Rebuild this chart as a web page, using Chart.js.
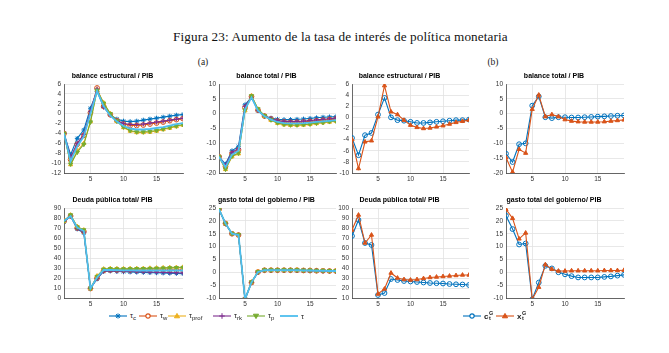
<!DOCTYPE html>
<html>
<head>
<meta charset="utf-8">
<script src="https://cdn.jsdelivr.net/npm/chart.js@4.4.1/dist/chart.umd.min.js"></script>
<style>
  body { margin: 0; background: #fff; width: 669px; height: 353px; position: relative; overflow: hidden; }
  .fig-title { position: absolute; top: 29px; left: 173px; white-space: nowrap; font-family: 'Liberation Serif', serif; font-size: 13.2px; letter-spacing: 0.12px; color: #111; }
  .sub-label { position: absolute; top: 57px; font-family: 'Liberation Serif', serif; font-size: 9.5px; color: #222; transform: translateX(-50%); }
  .leg-item { position: absolute; top: 311px; height: 10px; display: flex; align-items: center; font-family: 'Liberation Sans', Arial, sans-serif; font-size: 7.5px; color: #222; white-space: nowrap; }
  .leg-item svg { margin-right: 3px; }
  .leg-item sub { font-size: 6px; vertical-align: -2px; }
  .stack { display: inline-flex; flex-direction: column; font-size: 5.5px; line-height: 5px; margin-left: 0.5px; }
  .bold { font-weight: bold; font-size: 8px; }
</style>
</head>
<body>
<div class="fig-title">Figura 23: Aumento de la tasa de interés de política monetaria</div>
<div class="sub-label" style="left:203px">(a)</div>
<div class="sub-label" style="left:493px">(b)</div>

<script>
const periods = [1, 2, 3, 4, 5, 6, 7, 8, 9, 10, 11, 12, 13, 14, 15, 16, 17, 18, 19];
const xTicks = [5, 10, 15];

// (a) balance estructural / PIB
const estA_c    = [-4, -8.3, -5, -3.3, 1.1, 4.5, 1.4, -0.2, -1.1, -1.5, -1.6, -1.5, -1.3, -1.1, -0.9, -0.7, -0.5, -0.3, -0.2];
const estA_w    = [-4, -9.3, -6.2, -4.4, 0.2, 5.2, 1.5, -0.2, -1.4, -2.1, -2.4, -2.4, -2.3, -2.1, -1.9, -1.7, -1.4, -1.2, -1];
const estA_prof = [-4, -10.3, -7.5, -6, -1.6, 4.8, 2.2, 0, -1.5, -2.8, -3.5, -3.8, -3.8, -3.7, -3.5, -3.2, -2.9, -2.6, -2.3];
const estA_rk   = [-4, -8.8, -6, -4.2, 0.5, 5, 1.3, -0.3, -1.4, -2, -2.2, -2.2, -2.1, -1.9, -1.7, -1.5, -1.3, -1.1, -0.9];
const estA_p    = [-4, -10.2, -7.8, -6.2, -1.7, 4.7, 2.1, 0, -1.5, -2.7, -3.4, -3.7, -3.7, -3.6, -3.4, -3.1, -2.8, -2.5, -2.2];
const estA_tau  = [-4, -9.6, -6.6, -4.6, 0, 4.6, 1.5, -0.4, -1.6, -2.5, -3, -3.2, -3.2, -3.1, -2.9, -2.7, -2.4, -2.1, -1.9];

// (a) balance total / PIB
const totA_c    = [-14.5, -17, -12.5, -11, 3, 5.5, 1, -0.8, -1.5, -1.9, -2, -2, -1.9, -1.8, -1.6, -1.4, -1.2, -1.1, -1];
const totA_w    = [-14.5, -17.8, -13.5, -12.2, 2, 5.8, 1.2, -0.8, -1.8, -2.5, -2.8, -2.9, -2.9, -2.8, -2.6, -2.4, -2.2, -2, -1.8];
const totA_prof = [-14.5, -18.8, -14.5, -13.5, 1, 6, 1.5, -0.8, -2.2, -3.2, -3.7, -3.9, -3.9, -3.8, -3.6, -3.3, -3, -2.8, -2.5];
const totA_rk   = [-14.5, -17.5, -13, -11.8, 2.5, 5.6, 1.1, -0.8, -1.7, -2.3, -2.6, -2.6, -2.6, -2.5, -2.3, -2.1, -1.9, -1.7, -1.5];
const totA_p    = [-14.5, -18.7, -14.3, -13.3, 1.2, 6, 1.6, -0.7, -2.1, -3.1, -3.6, -3.8, -3.8, -3.7, -3.5, -3.2, -3, -2.7, -2.5];
const totA_tau  = [-14.5, -18, -13.8, -12.5, 1.5, 5.5, 1, -0.9, -2, -2.8, -3.2, -3.3, -3.3, -3.2, -3, -2.8, -2.6, -2.4, -2.2];

// (a) Deuda pública total / PIB
const deuA_c    = [76, 82, 69, 65, 9.5, 19, 26.5, 27, 26.5, 26.2, 26, 25.8, 25.6, 25.4, 25.2, 25, 24.8, 24.6, 24.4];
const deuA_w    = [77, 82, 70, 66.5, 9.5, 20, 27.5, 28, 28, 28, 28, 28, 28, 28, 28, 28, 28, 28, 28];
const deuA_prof = [77, 83, 71.5, 68, 9.5, 22, 29, 29.5, 29.3, 29.3, 29.4, 29.5, 29.6, 29.8, 30, 30.2, 30.4, 30.6, 30.8];
const deuA_rk   = [76.5, 82, 69.5, 66, 9.5, 19.5, 27, 27.3, 27, 26.8, 26.6, 26.4, 26.2, 26, 25.8, 25.6, 25.4, 25.2, 25];
const deuA_p    = [77, 83, 71, 68, 9.5, 21.5, 28.8, 29.2, 29, 29, 29.1, 29.2, 29.3, 29.5, 29.7, 29.9, 30.1, 30.3, 30.5];
const deuA_tau  = [77, 82, 70.5, 67, 9.5, 20.5, 28, 28, 27.8, 27.7, 27.6, 27.5, 27.5, 27.5, 27.5, 27.5, 27.5, 27.5, 27.5];

// (a) gasto total del gobierno / PIB
const gasA_c    = [24.5, 18.8, 15, 14.5, -10.5, -4, 0, 0.8, 0.8, 0.8, 0.8, 0.8, 0.7, 0.7, 0.6, 0.6, 0.5, 0.5, 0.4];
const gasA_w    = [24.5, 19, 15, 14.5, -10.5, -4, 0.1, 0.8, 0.8, 0.8, 0.8, 0.8, 0.8, 0.7, 0.7, 0.6, 0.6, 0.5, 0.5];
const gasA_prof = [24.5, 19, 15.1, 14.6, -10.5, -3.8, 0.2, 0.9, 0.9, 0.9, 0.9, 0.9, 0.9, 0.8, 0.8, 0.7, 0.7, 0.6, 0.6];
const gasA_rk   = [24.5, 18.9, 15, 14.5, -10.5, -4, 0, 0.8, 0.8, 0.8, 0.8, 0.8, 0.7, 0.7, 0.6, 0.6, 0.5, 0.5, 0.4];
const gasA_p    = [24.5, 19, 15.1, 14.6, -10.5, -3.8, 0.2, 0.9, 0.9, 0.9, 0.9, 0.9, 0.9, 0.8, 0.8, 0.7, 0.7, 0.6, 0.6];
const gasA_tau  = [24.5, 19, 15, 14.5, -10.5, -3.9, 0.1, 0.8, 0.8, 0.8, 0.8, 0.8, 0.8, 0.7, 0.7, 0.6, 0.6, 0.5, 0.5];

// (b) c^G_t and x^G_t
const estB_c = [-3.7, -6.8, -3.2, -2.8, 0.5, 3.5, 0, -0.5, -0.6, -0.8, -1, -1, -0.9, -0.8, -0.7, -0.6, -0.5, -0.5, -0.4];
const estB_x = [-4, -9.2, -4.4, -4.2, 0.1, 5.7, 1, 0.5, -0.5, -1.4, -1.8, -2, -1.9, -1.7, -1.5, -1.2, -0.9, -0.7, -0.5];
const totB_c = [-13.5, -16.3, -10.3, -10, 2.7, 5.8, -1.2, -1.5, -1.2, -1.2, -1.3, -1.3, -1.2, -1.1, -1, -0.9, -0.8, -0.7, -0.6];
const totB_x = [-14.8, -19.7, -12, -13.3, 1.5, 6.3, -1, -0.3, -1, -2, -2.5, -2.7, -2.8, -2.8, -2.8, -2.7, -2.5, -2.3, -2.1];
const deuB_c = [72, 88, 65, 63, 13, 15, 29, 28, 27, 26.5, 26, 25.5, 25, 24.8, 24.5, 24, 23.7, 23.5, 23];
const deuB_x = [78, 93, 65, 73, 14, 19, 35, 30, 28.5, 28, 28.5, 29.5, 30.5, 31, 31.5, 32, 32.5, 33, 33];
const gasB_c = [22, 16.8, 10.8, 11.2, -10.5, -4, 2.5, 1.5, 0, -0.8, -1.5, -2, -2, -2, -2, -1.8, -1.6, -1.3, -1];
const gasB_x = [24.5, 21, 13, 15.3, -10.5, -5.8, 3, 1.2, 0.5, 0.5, 0.6, 0.6, 0.6, 0.6, 0.6, 0.7, 0.7, 0.7, 0.8];

// styles of the six tax series and the two spending series
const tauStyles = [
  { name: 'c',    color: '#0072BD', style: 'star' },
  { name: 'w',    color: '#D95319', style: 'circle' },
  { name: 'prof', color: '#EDB120', style: 'triangle', fill: true },
  { name: 'rk',   color: '#7E2F8E', style: 'cross' },
  { name: 'p',    color: '#77AC30', style: 'triangle', fill: true, rot: 180 },
  { name: '',     color: '#4DBEEE', style: null, width: 1.8 }
];
const gStyles = [
  { color: '#0072BD', style: 'circle' },
  { color: '#D95319', style: 'triangle', fill: true }
];

// plot area edges in the figure
const L = [64, 219, 352, 506], R = [183, 336, 469, 624];
const T = [84, 208], B = [173, 298];
const YW = 22, XH = 12, TH = 14;

function buildSets(list, styles) {
  const n = list.length;
  return list.map((vals, i) => {
    const s = styles[i];
    return {
      data: vals.map((v, k) => ({ x: periods[k], y: v })),
      borderColor: s.color,
      borderWidth: s.width || 1.1,
      pointStyle: s.style || 'circle',
      pointRadius: s.style ? 2.4 : 0,
      pointRotation: s.rot || 0,
      pointBorderColor: s.color,
      pointBackgroundColor: s.fill ? s.color : 'rgba(255,255,255,0)',
      pointBorderWidth: 1,
      tension: 0,
      order: n - i
    };
  });
}

function addPanel(col, row, title, yMin, yMax, yStep, datasets) {
  const w = R[col] - L[col] + 2 * YW;
  const h = B[row] - T[row] + TH + XH;
  const cv = document.createElement('canvas');
  cv.width = w; cv.height = h;
  cv.style.cssText = `position:absolute;left:${L[col] - YW}px;top:${T[row] - TH}px;width:${w}px;height:${h}px;`;
  document.body.appendChild(cv);

  const tickFont = { family: "'Liberation Sans', Arial, sans-serif", size: 6.5 };
  new Chart(cv, {
    type: 'line',
    data: { datasets },
    options: {
      responsive: false,
      animation: false,
      devicePixelRatio: 1,
      layout: { padding: { left: 0, right: YW, top: 0, bottom: 0 } },
      plugins: {
        legend: { display: false },
        tooltip: { enabled: false },
        title: {
          display: true, text: title, color: '#000',
          font: { family: "'Liberation Sans', Arial, sans-serif", size: 7, weight: 'bold', lineHeight: 1 },
          padding: { top: 3, bottom: 4 }
        }
      },
      scales: {
        x: {
          type: 'linear', min: 1, max: 19,
          afterBuildTicks: s => { s.ticks = xTicks.map(v => ({ value: v })); },
          afterFit: s => { s.height = XH; },
          ticks: { font: tickFont, color: '#333', padding: 2, maxRotation: 0, autoSkip: false },
          grid: { color: '#e2e2e2', lineWidth: 0.8, drawTicks: false },
          border: { color: '#444', width: 0.8 }
        },
        y: {
          min: yMin, max: yMax,
          afterFit: s => { s.width = YW; },
          ticks: { stepSize: yStep, font: tickFont, color: '#333', padding: 3, autoSkip: false },
          grid: { color: '#e2e2e2', lineWidth: 0.8, drawTicks: false },
          border: { color: '#444', width: 0.8 }
        }
      }
    }
  });
}

addPanel(0, 0, 'balance estructural / PIB', -12, 6, 2,
  buildSets([estA_c, estA_w, estA_prof, estA_rk, estA_p, estA_tau], tauStyles));
addPanel(1, 0, 'balance total / PIB', -20, 10, 5,
  buildSets([totA_c, totA_w, totA_prof, totA_rk, totA_p, totA_tau], tauStyles));
addPanel(2, 0, 'balance estructural / PIB', -10, 6, 2,
  buildSets([estB_c, estB_x], gStyles));
addPanel(3, 0, 'balance total / PIB', -20, 10, 5,
  buildSets([totB_c, totB_x], gStyles));
addPanel(0, 1, 'Deuda pública total/ PIB', 0, 90, 10,
  buildSets([deuA_c, deuA_w, deuA_prof, deuA_rk, deuA_p, deuA_tau], tauStyles));
addPanel(1, 1, 'gasto total del gobierno / PIB', -10, 25, 5,
  buildSets([gasA_c, gasA_w, gasA_prof, gasA_rk, gasA_p, gasA_tau], tauStyles));
addPanel(2, 1, 'Deuda pública total/ PIB', 10, 100, 10,
  buildSets([deuB_c, deuB_x], gStyles));
addPanel(3, 1, 'gasto total del gobierno/ PIB', -10, 25, 5,
  buildSets([gasB_c, gasB_x], gStyles));

// legends: small line+marker symbols drawn as svg
function symbol(s) {
  const c = 9, y = 4, col = s.color;
  let mk = '';
  if (s.style === 'star') {
    mk = `<path d="M${c - 2.6} ${y}h5.2M${c} ${y - 2.6}v5.2M${c - 1.9} ${y - 1.9}l3.8 3.8M${c + 1.9} ${y - 1.9}l-3.8 3.8" stroke="${col}" stroke-width="1"/>`;
  } else if (s.style === 'circle') {
    mk = `<circle cx="${c}" cy="${y}" r="2.2" fill="${s.fill ? col : '#fff'}" stroke="${col}" stroke-width="1.2"/>`;
  } else if (s.style === 'triangle') {
    mk = s.rot
      ? `<path d="M${c - 2.6} ${y - 1.8}h5.2L${c} ${y + 2.6}z" fill="${col}" stroke="${col}"/>`
      : `<path d="M${c - 2.6} ${y + 1.8}h5.2L${c} ${y - 2.6}z" fill="${col}" stroke="${col}"/>`;
  } else if (s.style === 'cross') {
    mk = `<path d="M${c - 2.8} ${y}h5.6M${c} ${y - 2.8}v5.6" stroke="${col}" stroke-width="1"/>`;
  }
  return `<svg width="18" height="8"><line x1="0" y1="${y}" x2="18" y2="${y}" stroke="${col}" stroke-width="${s.width || 1.1}"/>${mk}</svg>`;
}

const tauLegendX = [109, 139, 168, 213, 247, 280];
tauStyles.forEach((s, i) => {
  const el = document.createElement('div');
  el.className = 'leg-item';
  el.style.left = tauLegendX[i] + 'px';
  el.innerHTML = `${symbol(s)}<span>τ${s.name ? `<sub>${s.name}</sub>` : ''}</span>`;
  document.body.appendChild(el);
});

const gLegendX = [463, 496];
const gNames = ['c', 'x'];
gStyles.forEach((s, i) => {
  const el = document.createElement('div');
  el.className = 'leg-item';
  el.style.left = gLegendX[i] + 'px';
  el.innerHTML = `${symbol(s)}<span class="bold">${gNames[i]}</span><span class="stack bold"><span style="font-size:5.5px">G</span><span style="font-size:5.5px">t</span></span>`;
  document.body.appendChild(el);
});
</script>
</body>
</html>
